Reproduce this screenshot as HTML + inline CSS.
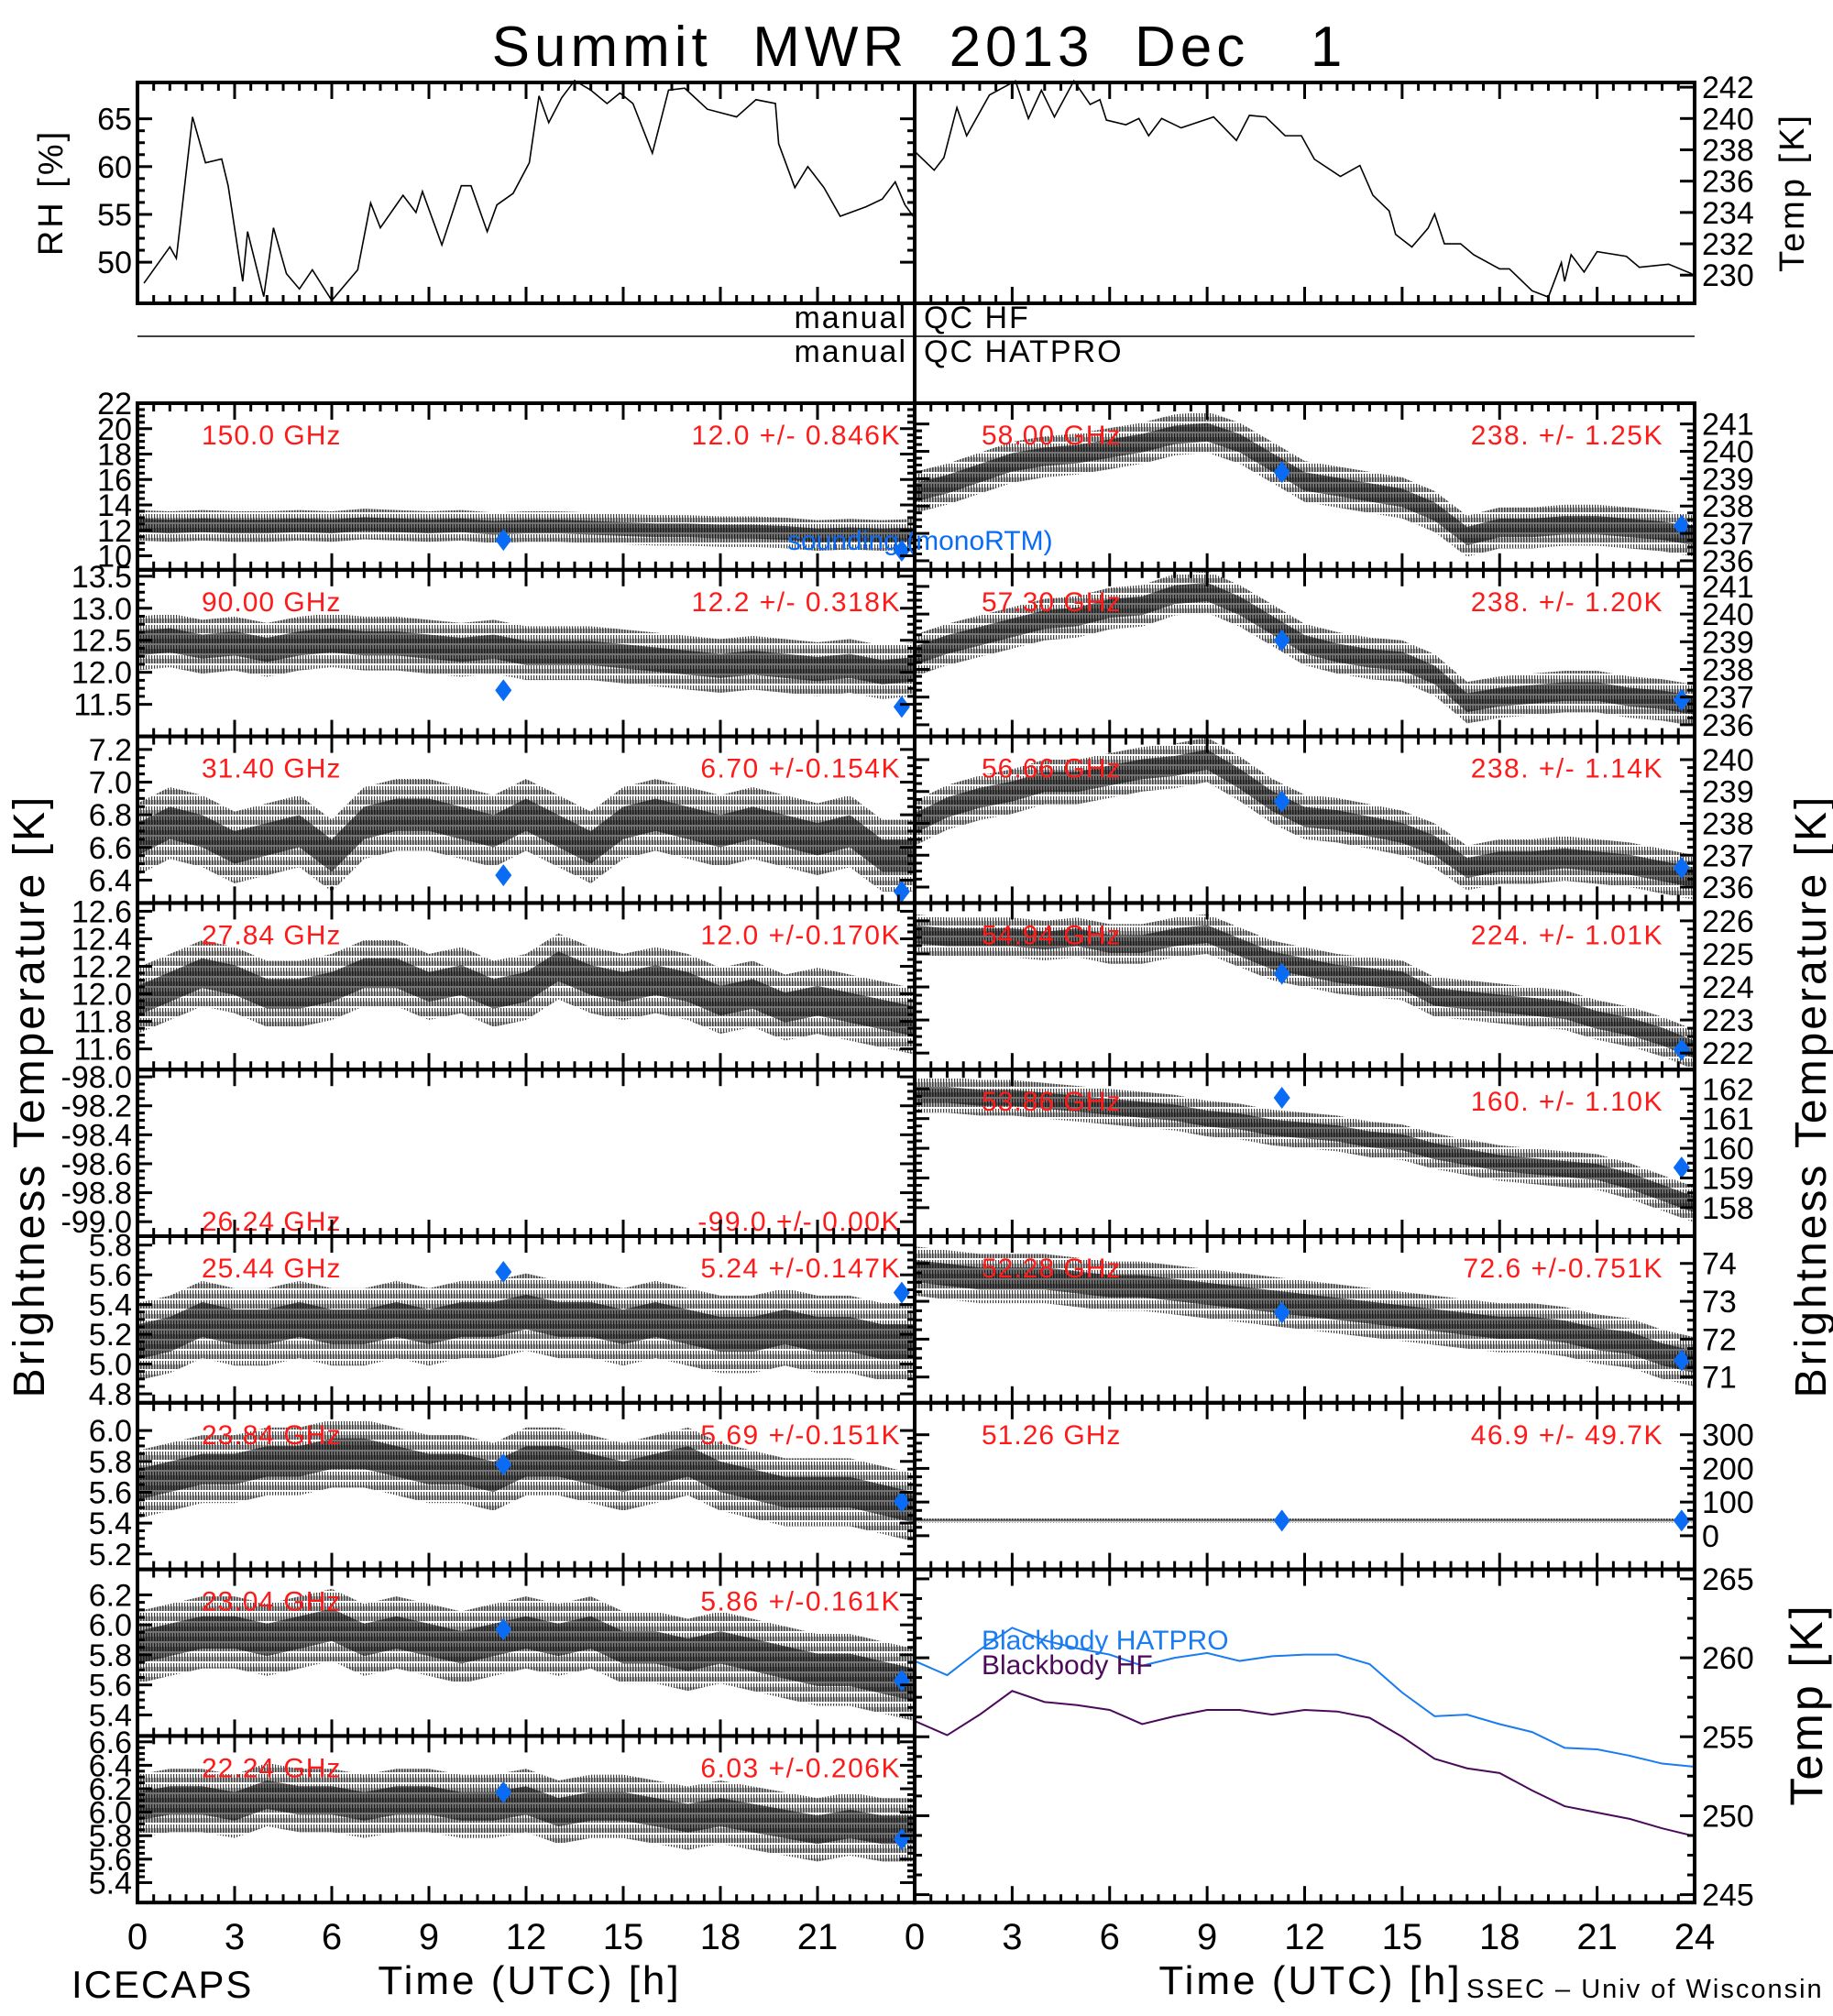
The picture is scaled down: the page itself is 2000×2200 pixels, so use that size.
<!DOCTYPE html>
<html><head><meta charset="utf-8"><title>Summit MWR 2013 Dec 1</title>
<style>
html,body{margin:0;padding:0;background:#fff;}
svg{display:block;font-family:"Liberation Sans",sans-serif;}
</style></head>
<body>
<svg id="chart" xmlns="http://www.w3.org/2000/svg" width="2000" height="2200" viewBox="0 0 2000 2200">
<defs>
<pattern id="noise" width="3" height="11" patternUnits="userSpaceOnUse">
<rect x="0" y="0" width="1.2" height="9" fill="#000"/>
<rect x="1.5" y="4" width="0.8" height="5" fill="#000"/>
</pattern>
</defs>
<rect x="0" y="0" width="2000" height="2200" fill="#fff"/>
<text x="1003" y="72" text-anchor="middle" font-size="62" letter-spacing="5" xml:space="preserve">Summit  MWR  2013  Dec   1</text>
<g id="layer"></g>
</svg>
<script>
// ---------- DATA ----------
const hours = [0,1,2,3,4,5,6,7,8,9,10,11,12,13,14,15,16,17,18,19,20,21,22,23,24];
const soundHours = [11.3, 23.6];

const rhHours = [0.2,1,1.2,1.7,2.1,2.6,2.8,3.25,3.4,3.9,4.2,4.6,5,5.4,6,6.8,7.2,7.5,8.2,8.6,8.8,9.4,10,10.3,10.8,11.1,11.6,12.1,12.4,12.7,13.1,13.5,14,14.5,14.9,15.3,15.9,16.4,16.9,17.6,18.5,19.1,19.7,19.8,20.3,20.7,21.2,21.7,22.5,23,23.4,23.7,24];
const rhValues = [47.8,51.6,50.4,65.2,60.4,60.8,58,48,53.2,46.4,53.6,48.8,47.2,49.2,46,49.2,56.2,53.6,57,55.2,57.4,51.8,58,58,53.2,56,57.2,60.4,67.4,64.6,67.2,69,68,66.6,67.7,66.6,61.4,68,68.2,66,65.2,67,66.6,62.4,57.8,60,57.8,54.8,55.8,56.6,58.4,56,54.6];

const tempHours = [0,0.6,0.9,1.3,1.6,2.3,3.1,3.5,3.9,4.3,4.9,5.4,5.7,5.9,6.5,6.9,7.2,7.6,8.2,9.2,9.9,10.3,10.8,11.4,11.9,12.3,13.1,13.7,14.1,14.6,14.8,15.3,15.8,16,16.3,16.8,17.2,18,18.3,19,19.5,19.9,20,20.2,20.6,21,21.9,22.3,23.2,23.9,24];
const tempValues = [237.9,236.7,237.5,240.7,238.9,241.5,242.4,240,241.8,240.1,242.4,240.9,241.2,239.9,239.6,240,238.9,240,239.4,240.1,238.6,240.2,240.1,238.9,238.9,237.4,236.3,237,235.1,234.1,232.6,231.8,233,233.9,232,232,231.3,230.4,230.4,229,228.6,230.8,229.6,231.3,230.2,231.5,231.2,230.5,230.7,230.1,229.9];

// left column brightness temperatures (hourly centers)
const tb150 = [12.4,12.3,12.4,12.3,12.3,12.4,12.3,12.5,12.4,12.3,12.4,12.2,12.3,12.3,12.2,12.1,12.0,12.0,11.9,11.9,11.8,11.6,11.7,11.6,11.7];
const tb9000 = [12.45,12.5,12.4,12.45,12.35,12.45,12.5,12.45,12.45,12.4,12.35,12.4,12.3,12.3,12.3,12.25,12.2,12.15,12.1,12.15,12.1,12.05,12.1,12.0,12.05];
const tb3140 = [6.65,6.75,6.7,6.6,6.65,6.7,6.55,6.75,6.8,6.8,6.75,6.7,6.8,6.7,6.6,6.75,6.8,6.75,6.7,6.75,6.7,6.65,6.7,6.55,6.55];
const tb2784 = [11.95,12.05,12.15,12.1,12.0,12.0,12.05,12.15,12.15,12.05,12.1,12.0,12.05,12.2,12.1,12.05,12.1,12.05,11.95,12.0,11.9,11.95,11.9,11.85,11.8];
const tb2544 = [5.15,5.2,5.3,5.25,5.25,5.3,5.25,5.25,5.3,5.25,5.3,5.3,5.35,5.3,5.3,5.25,5.3,5.25,5.2,5.2,5.25,5.2,5.2,5.15,5.15];
const tb2384 = [5.65,5.7,5.75,5.75,5.8,5.8,5.85,5.85,5.8,5.75,5.75,5.7,5.8,5.8,5.75,5.7,5.75,5.8,5.7,5.65,5.6,5.6,5.6,5.55,5.5];
const tb2304 = [5.85,5.9,5.95,5.95,5.9,5.95,6.0,5.9,5.95,5.9,5.85,5.9,5.95,5.9,5.95,5.85,5.85,5.8,5.85,5.8,5.75,5.7,5.7,5.65,5.6];
const tb2224 = [6.05,6.1,6.1,6.05,6.15,6.1,6.1,6.05,6.1,6.1,6.05,6.05,6.1,6.0,6.05,6.05,6.0,5.95,6.0,5.95,5.9,5.85,5.9,5.85,5.85];
// right column
const tb5800 = [238.5,238.8,239.2,239.6,239.8,239.9,240.1,240.3,240.6,240.7,240.3,239.6,238.9,238.7,238.5,238.3,237.8,236.9,237.2,237.2,237.3,237.3,237.2,237.1,236.9];
const tb5730 = [238.5,238.9,239.2,239.5,239.8,239.9,240.2,240.3,240.7,240.8,240.3,239.6,238.9,238.6,238.4,238.3,237.8,236.8,237.0,237.1,237.2,237.2,237.0,236.9,236.7];
const tb5666 = [238.0,238.5,238.8,239.0,239.3,239.3,239.5,239.7,239.8,240.0,239.4,238.7,238.2,238.1,237.9,237.7,237.3,236.6,236.8,236.8,236.9,236.8,236.7,236.5,236.3];
const tb5494 = [225.6,225.5,225.5,225.5,225.4,225.5,225.3,225.3,225.5,225.6,225.2,224.8,224.6,224.4,224.3,224.2,223.7,223.6,223.5,223.4,223.3,223.0,222.8,222.5,222.1];
const tb5386 = [161.8,161.8,161.7,161.7,161.6,161.5,161.4,161.3,161.2,161.0,160.9,160.7,160.6,160.5,160.3,160.2,159.9,159.7,159.5,159.4,159.3,159.2,158.9,158.5,158.1];
const tb5228 = [73.8,73.7,73.6,73.6,73.6,73.5,73.4,73.4,73.3,73.2,73.1,73.0,72.9,72.8,72.7,72.6,72.5,72.4,72.3,72.3,72.2,72.0,71.9,71.6,71.4];
const tb5126 = [45,45,45,45,45,45,45,45,45,45,45,45,45,45,45,45,45,45,45,45,45,45,45,45,45];

// noise half-width per channel (K)
const spread = [1.2,0.42,0.22,0.24,0,0.26,0.22,0.24,0.27, 0.75,0.75,0.7,0.6,0.6,0.65,6];
// soundings per channel [11.3h, 23.6h]
const snd150=[11.25,10.4], snd9000=[11.72,11.46], snd3140=[6.43,6.33], snd2544=[5.62,5.48], snd2384=[5.78,5.54], snd2304=[5.97,5.63], snd2224=[6.17,5.77];
const snd5800=[239.24,237.28], snd5730=[239.05,236.9], snd5666=[238.69,236.6], snd5494=[224.4,222.1], snd5386=[161.7,159.35], snd5228=[72.7,71.44], snd5126=[45,45];

const bbHatpro = [259.8,258.9,260.5,261.9,261.1,260.6,260.2,259.5,260.0,260.3,259.8,260.1,260.2,260.2,259.6,257.8,256.3,256.4,255.8,255.3,254.3,254.2,253.8,253.3,253.1];
const bbHF = [256.0,255.1,256.4,257.9,257.2,257.0,256.7,255.8,256.3,256.7,256.7,256.4,256.7,256.6,256.2,255.0,253.6,253.0,252.7,251.6,250.6,250.2,249.8,249.2,248.7];

const xTickLabels = ["0","3","6","9","12","15","18","21","24"];

// tick labels per panel
const tk150=["22","20","18","16","14","12","10"], tv150=[22,20,18,16,14,12,10];
const tk90=["13.5","13.0","12.5","12.0","11.5"], tv90=[13.5,13,12.5,12,11.5];
const tk31=["7.2","7.0","6.8","6.6","6.4"], tv31=[7.2,7.0,6.8,6.6,6.4];
const tk27=["12.6","12.4","12.2","12.0","11.8","11.6"], tv27=[12.6,12.4,12.2,12.0,11.8,11.6];
const tk26=["-98.0","-98.2","-98.4","-98.6","-98.8","-99.0"], tv26=[-98,-98.2,-98.4,-98.6,-98.8,-99];
const tk25=["5.8","5.6","5.4","5.2","5.0","4.8"], tv25=[5.8,5.6,5.4,5.2,5.0,4.8];
const tk238=["6.0","5.8","5.6","5.4","5.2"], tv238=[6.0,5.8,5.6,5.4,5.2];
const tk230=["6.2","6.0","5.8","5.6","5.4"], tv230=[6.2,6.0,5.8,5.6,5.4];
const tk222=["6.6","6.4","6.2","6.0","5.8","5.6","5.4"], tv222=[6.6,6.4,6.2,6.0,5.8,5.6,5.4];
const tk58=["241","240","239","238","237","236"], tv58=[241,240,239,238,237,236];
const tk573=["241","240","239","238","237","236"], tv573=[241,240,239,238,237,236];
const tk566=["240","239","238","237","236"], tv566=[240,239,238,237,236];
const tk549=["226","225","224","223","222"], tv549=[226,225,224,223,222];
const tk538=["162","161","160","159","158"], tv538=[162,161,160,159,158];
const tk522=["74","73","72","71"], tv522=[74,73,72,71];
const tk512=["300","200","100","0"], tv512=[300,200,100,0];
const tkBB=["265","260","255","250","245"], tvBB=[265,260,255,250,245];
const tkRH=["65","60","55","50"], tvRH=[65,60,55,50];
const tkT=["242","240","238","236","234","232","230"], tvT=[242,240,238,236,234,232,230];

// ---------- LAYOUT ----------
const NS="http://www.w3.org/2000/svg";
const layer=document.getElementById('layer');
const XL0=150, XM=998, XR1=1849, PT=440, PH=181.8;
function xAt(h,side){return side===0? XL0+h/24*(XM-XL0) : XM+h/24*(XR1-XM);}
function mk(tag,attrs,parent){const e=document.createElementNS(NS,tag);for(const k in attrs)e.setAttribute(k,attrs[k]);(parent||layer).appendChild(e);return e;}

const panels=[
 {side:0,row:0,name:'150',c:tb150,s:spread[0],snd:snd150,yT:22.0,yB:8.9,tk:tk150,tv:tv150,freq:'150.0 GHz',val:'12.0 +/- 0.846K'},
 {side:0,row:1,name:'90',c:tb9000,s:spread[1],snd:snd9000,yT:13.6,yB:11.0,tk:tk90,tv:tv90,freq:'90.00 GHz',val:'12.2 +/- 0.318K'},
 {side:0,row:2,name:'31-40',c:tb3140,s:spread[2],snd:snd3140,yT:7.28,yB:6.26,tk:tk31,tv:tv31,freq:'31.40 GHz',val:'6.70 +/-0.154K'},
 {side:0,row:3,name:'27-84',c:tb2784,s:spread[3],snd:null,yT:12.66,yB:11.45,tk:tk27,tv:tv27,freq:'27.84 GHz',val:'12.0 +/-0.170K'},
 {side:0,row:4,name:'26-24',c:null,s:0,snd:null,yT:-97.95,yB:-99.1,tk:tk26,tv:tv26,freq:'26.24 GHz',val:'-99.0 +/- 0.00K',bottomText:true},
 {side:0,row:5,name:'25-44',c:tb2544,s:spread[5],snd:snd2544,yT:5.86,yB:4.74,tk:tk25,tv:tv25,freq:'25.44 GHz',val:'5.24 +/-0.147K'},
 {side:0,row:6,name:'23-84',c:tb2384,s:spread[6],snd:snd2384,yT:6.18,yB:5.10,tk:tk238,tv:tv238,freq:'23.84 GHz',val:'5.69 +/-0.151K'},
 {side:0,row:7,name:'23-04',c:tb2304,s:spread[7],snd:snd2304,yT:6.37,yB:5.26,tk:tk230,tv:tv230,freq:'23.04 GHz',val:'5.86 +/-0.161K'},
 {side:0,row:8,name:'22-24',c:tb2224,s:spread[8],snd:snd2224,yT:6.65,yB:5.23,tk:tk222,tv:tv222,freq:'22.24 GHz',val:'6.03 +/-0.206K'},
 {side:1,row:0,name:'58-00',c:tb5800,s:spread[9],snd:snd5800,yT:241.76,yB:235.67,tk:tk58,tv:tv58,freq:'58.00 GHz',val:'238. +/- 1.25K'},
 {side:1,row:1,name:'57-30',c:tb5730,s:spread[10],snd:snd5730,yT:241.6,yB:235.58,tk:tk573,tv:tv573,freq:'57.30 GHz',val:'238. +/- 1.20K'},
 {side:1,row:2,name:'56-66',c:tb5666,s:spread[11],snd:snd5666,yT:240.73,yB:235.5,tk:tk566,tv:tv566,freq:'56.66 GHz',val:'238. +/- 1.14K'},
 {side:1,row:3,name:'54-94',c:tb5494,s:spread[12],snd:snd5494,yT:226.54,yB:221.5,tk:tk549,tv:tv549,freq:'54.94 GHz',val:'224. +/- 1.01K'},
 {side:1,row:4,name:'53-86',c:tb5386,s:spread[13],snd:snd5386,yT:162.65,yB:157.04,tk:tk538,tv:tv538,freq:'53.86 GHz',val:'160. +/- 1.10K'},
 {side:1,row:5,name:'52-28',c:tb5228,s:spread[14],snd:snd5228,yT:74.72,yB:70.32,tk:tk522,tv:tv522,freq:'52.28 GHz',val:'72.6 +/-0.751K'},
 {side:1,row:6,name:'51-26',c:tb5126,s:spread[15],snd:snd5126,yT:395,yB:-100,tk:tk512,tv:tv512,freq:'51.26 GHz',val:'46.9 +/- 49.7K'}
];

function frame(x0,y0,x1,y1,name,side,yTicks,yMap){
  const g=mk('g',{});
  
  
  for(let i=0;i<=48;i++){
    const h=i*0.5, x=side===0?XL0+h/24*(XM-XL0):XM+h/24*(XR1-XM);
    const L=(i%6===0)?18:9;
    mk('line',{x1:x,y1:y0,x2:x,y2:y0+L,stroke:'#000','stroke-width':3},g);
    mk('line',{x1:x,y1:y1,x2:x,y2:y1-L,stroke:'#000','stroke-width':3},g);
  }
  if(yTicks){
    for(let k=0;k<yTicks.length;k++){
      const y=yMap(yTicks[k]);
      mk('line',{x1:x0,y1:y,x2:x0+16,y2:y,stroke:'#000','stroke-width':3},g);
      mk('line',{x1:x1,y1:y,x2:x1-16,y2:y,stroke:'#000','stroke-width':3},g);
      if(k<yTicks.length-1){
        const step=(yTicks[k]-yTicks[k+1])/4;
        for(let m=1;m<4;m++){const ym=yMap(yTicks[k]-step*m);
          mk('line',{x1:x0,y1:ym,x2:x0+8,y2:ym,stroke:'#000','stroke-width':3},g);
          mk('line',{x1:x1,y1:ym,x2:x1-8,y2:ym,stroke:'#000','stroke-width':3},g);}
      }
    }
  }
  mk('rect',{x:x0,y:y0,width:x1-x0,height:y1-y0,fill:'none',stroke:'#000','stroke-width':4},g);
}

function diamond(x,y,name){
  const d=mk('polygon',{points:`${x},${y-12} ${x+9},${y} ${x},${y+12} ${x-9},${y}`,fill:'#0a6cf5'});
  
  
}

panels.forEach(p=>{
  const y0=PT+p.row*PH, y1=y0+PH;
  const x0=p.side===0?XL0:XM, x1=p.side===0?XM:XR1;
  const yMap=v=>y0+(p.yT-v)/(p.yT-p.yB)*PH;
  const g=mk('g',{});
  
  
  const cp=mk('clipPath',{id:'cp'+p.name},g);
  mk('rect',{x:x0,y:y0,width:x1-x0,height:PH},cp);
  if(p.c){
    let up=[],dn=[],iu=[],idn=[];
    for(let i=0;i<hours.length;i++){
      const x=xAt(hours[i],p.side);
      up.push(x+','+yMap(p.c[i]+p.s)); dn.push(x+','+yMap(p.c[i]-p.s));
      iu.push(x+','+yMap(p.c[i]+p.s*0.45)); idn.push(x+','+yMap(p.c[i]-p.s*0.45));
    }
    const band=mk('polygon',{points:up.concat(dn.reverse()).join(' '),fill:'url(#noise)','fill-opacity':0.75,'clip-path':`url(#cp${p.name})`},g);
    
    
    const core=mk('polygon',{points:iu.concat(idn.reverse()).join(' '),fill:'#000','fill-opacity':0.55,'clip-path':`url(#cp${p.name})`},g);
    
    
  }
  p.tk.forEach((t,k)=>{
    const tx=mk('text',{x:p.side===0?x0-6:x1+8,y:yMap(p.tv[k])+12,'text-anchor':p.side===0?'end':'start','font-size':34},g);
    tx.textContent=t;
    
    
  });
  const ty=p.bottomText? y0+176 : y0+45;
  const f=mk('text',{x:p.side===0?220:1071,y:ty,fill:'#ff1a1a','font-size':30,'letter-spacing':1},g);
  f.textContent=p.freq;
  
  
  const v=mk('text',{x:p.side===0?983:1815,y:ty,fill:'#ff1a1a','font-size':30,'text-anchor':'end','letter-spacing':1.5},g);
  v.textContent=p.val;
  
  
  if(p.snd){p.snd.forEach((s,k)=>diamond(xAt(soundHours[k],p.side),yMap(s),'sounding-marker'));}
  frame(x0,y0,x1,y1,'panel-'+p.name,p.side,p.tv,yMap);
});

const sl=mk('text',{x:859,y:600,fill:'#0a6cf5','font-size':30,'xml:space':'preserve'});
sl.textContent='sounding  (monoRTM)';



// ---------- RH / Temp top panel ----------
const TT=90, TB=331;
const rhMap=v=>TT+(68.8-v)/(68.8-45.7)*(TB-TT);
const tMap=v=>TT+(242.3-v)/(242.3-228.2)*(TB-TT);
let rp=[];for(let i=0;i<rhHours.length;i++)rp.push(xAt(rhHours[i],0)+','+rhMap(rhValues[i]));
const rhl=mk('polyline',{points:rp.join(' '),fill:'none',stroke:'#000','stroke-width':1.6});


let tp=[];for(let i=0;i<tempHours.length;i++)tp.push(xAt(tempHours[i],1)+','+tMap(tempValues[i]));
const tl=mk('polyline',{points:tp.join(' '),fill:'none',stroke:'#000','stroke-width':1.6});


frame(XL0,TT,XM,TB,'rh',0,tvRH,rhMap);
frame(XM,TT,XR1,TB,'temp',1,null,null);
tvT.forEach((v,k)=>{
  mk('line',{x1:XR1,y1:tMap(v),x2:XR1-16,y2:tMap(v),stroke:'#000','stroke-width':3});
  const t=mk('text',{x:XR1+8,y:tMap(v)+12,'font-size':34});t.textContent=tkT[k];
  
  
});
tvRH.forEach((v,k)=>{
  const t=mk('text',{x:XL0-6,y:rhMap(v)+12,'font-size':34,'text-anchor':'end'});t.textContent=tkRH[k];
  
  
});

// ---------- Blackbody panel ----------
const BT=PT+7*PH, BB=PT+9*PH;
const bbMap=v=>BT+(265.6-v)/(265.6-244.5)*(BB-BT);
function bbLine(arr,col,name){
  let pts=[];for(let i=0;i<hours.length;i++)pts.push(xAt(hours[i],1)+','+bbMap(arr[i]));
  const l=mk('polyline',{points:pts.join(' '),fill:'none',stroke:col,'stroke-width':2});
  
  
}
bbLine(bbHatpro,'#1a7cf0','blackbody-hatpro-line');
bbLine(bbHF,'#4b0a5a','blackbody-hf-line');
frame(XM,BT,XR1,BB,'blackbody',1,tvBB,bbMap);
tvBB.forEach((v,k)=>{
  const t=mk('text',{x:XR1+8,y:bbMap(v)+12,'font-size':34});t.textContent=tkBB[k];
  
  
});
const lh=mk('text',{x:1071,y:1800,fill:'#1a7cf0','font-size':30});lh.textContent='Blackbody HATPRO';


const lf=mk('text',{x:1071,y:1827,fill:'#4b0a5a','font-size':30});lf.textContent='Blackbody HF';



const dv=mk('line',{x1:XM,y1:TT,x2:XM,y2:BB,stroke:'#000','stroke-width':4});



const ql=mk('line',{x1:XL0,y1:367,x2:XR1,y2:367,stroke:'#000','stroke-width':1.5});


[['manual',990,358,'end','qc-manual-hf'],['QC  HF',1008,358,'start','qc-hf-label'],['manual',990,395,'end','qc-manual-hatpro'],['QC  HATPRO',1008,395,'start','qc-hatpro-label']].forEach(a=>{
  const t=mk('text',{x:a[1],y:a[2],'text-anchor':a[3],'font-size':34,'letter-spacing':2,'xml:space':'preserve'});t.textContent=a[0];
  
  
});

for(let s=0;s<2;s++){
  xTickLabels.forEach((lab,k)=>{
    if(s===0&&k===8)return;
    const t=mk('text',{x:xAt(k*3,s),y:2127,'text-anchor':'middle','font-size':40});t.textContent=lab;
    
    
  });
}
[['Time  (UTC)  [h]',578,2176,'x-axis-title-left'],['Time  (UTC)  [h]',1430,2176,'x-axis-title-right']].forEach(a=>{
  const t=mk('text',{x:a[1],y:a[2],'text-anchor':'middle','font-size':44,'letter-spacing':3,'xml:space':'preserve'});t.textContent=a[0];
  
  
});
const ic=mk('text',{x:78,y:2180,'font-size':42,'letter-spacing':2});ic.textContent='ICECAPS';


const ss=mk('text',{x:1600,y:2180,'font-size':29,'letter-spacing':2,'xml:space':'preserve'});ss.textContent='SSEC  –  Univ of Wisconsin';



function rot(txt,x,y,size,name){
  const t=mk('text',{x:0,y:0,'font-size':size,'text-anchor':'middle','letter-spacing':3,transform:`translate(${x},${y}) rotate(-90)`,'xml:space':'preserve'});
  t.textContent=txt;
  
  
}
rot('Brightness  Temperature  [K]',48,1196,48,'y-axis-title-left');
rot('Brightness  Temperature  [K]',1992,1196,48,'y-axis-title-right');
rot('RH  [%]',68,210,38,'rh-axis-title');
rot('Temp  [K]',1968,210,38,'temp-axis-title');
rot('Temp  [K]',1988,1860,50,'blackbody-axis-title');
</script>
</body></html>
